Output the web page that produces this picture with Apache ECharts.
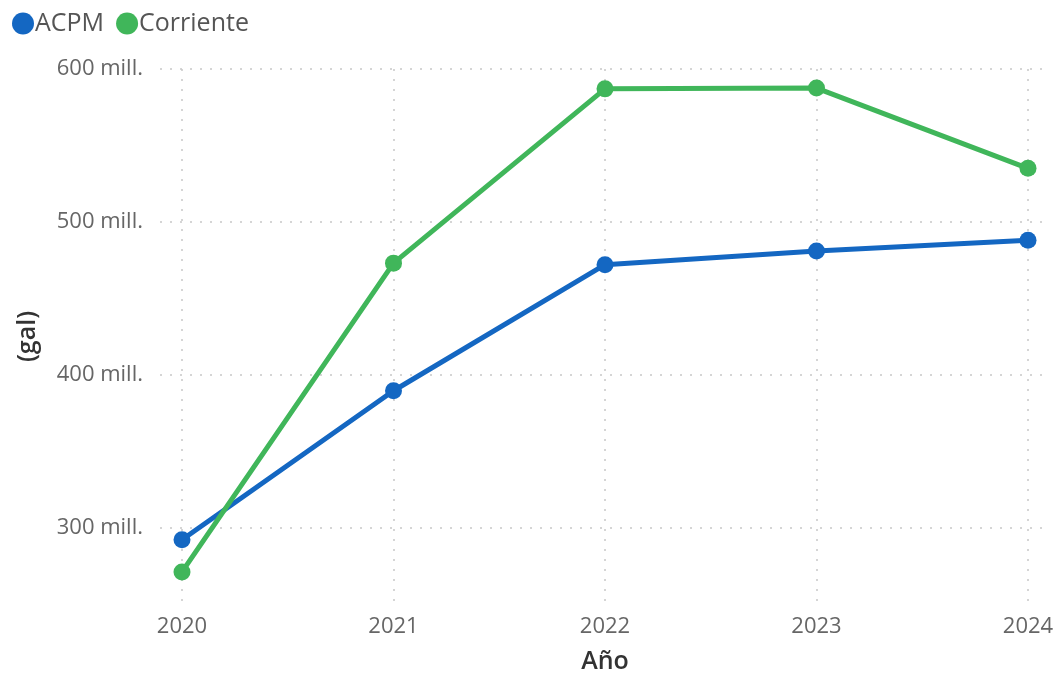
<!DOCTYPE html>
<html>
<head>
<meta charset="utf-8">
<script src="https://cdn.jsdelivr.net/npm/echarts@6/dist/echarts.min.js"></script>
<style>
  html, body { margin: 0; padding: 0; background: #fff; }
  #chart { width: 1057px; height: 674px; }
</style>
</head>
<body>
<div id="chart"></div>
<script>
    // datos (millones de galones)
    const years = ['2020', '2021', '2022', '2023', '2024']
    const acpm = [292, 389.5, 472, 481, 488]
    const corriente = [271, 473, 587, 587.5, 535]
    const yTicks = [300, 400, 500, 600]

    const chart = echarts.init(document.getElementById('chart'))
    const font = '"Open Sans", "Noto Sans", sans-serif'

    const option = {
        backgroundColor: '#fff',
        animation: false,
        textStyle: { fontFamily: font },
        legend: {
            left: 7,
            top: 6,
            icon: 'circle',
            itemWidth: 22,
            itemHeight: 22,
            itemGap: 12,
            textStyle: { fontSize: 25, color: '#555', fontFamily: font, padding: [0, 0, 0, -4] },
            data: ['ACPM', 'Corriente']
        },
        grid: [
            // grid for y labels and horizontal lines
            { left: 160, right: 14, top: 69, bottom: 70, outerBoundsMode: 'none', containLabel: false },
            // grid for the series
            { left: 182, right: 29, top: 69, bottom: 70, outerBoundsMode: 'none', containLabel: false }
        ],
        xAxis: [
            {
                gridIndex: 0, type: 'category', data: years, show: false
            },
            {
                gridIndex: 1,
                type: 'category',
                data: years,
                boundaryGap: false,
                name: 'Año',
                nameLocation: 'middle',
                nameGap: 45,
                nameTextStyle: { fontSize: 25, fontWeight: 600, color: '#333', fontFamily: font },
                axisLine: { show: false },
                axisTick: { show: false },
                axisLabel: { fontSize: 22, color: '#666', margin: 12, fontFamily: font },
                splitLine: { show: true, lineStyle: { type: [2, 8], color: '#c8c8c8', width: 1.5 } }
            }
        ],
        yAxis: [
            {
                gridIndex: 0,
                type: 'value',
                min: 250,
                max: 600,
                interval: 50,
                name: '(gal)',
                nameLocation: 'middle',
                nameGap: 120,
                nameRotate: 90,
                nameTextStyle: { fontSize: 25, fontWeight: 600, color: '#333', fontFamily: font },
                axisLine: { show: false },
                axisTick: { show: false },
                axisLabel: {
                    fontSize: 22, color: '#666', margin: 17, fontFamily: font,
                    formatter: function (v) {
                        return yTicks.indexOf(v) >= 0 ? v + ' mill.' : ''
                    }
                },
                splitLine: {
                    show: true,
                    lineStyle: { type: [2, 8], color: ['transparent', '#c8c8c8'], width: 1.5 }
                }
            },
            {
                gridIndex: 1,
                type: 'value',
                min: 250,
                max: 600,
                axisLine: { show: false },
                axisTick: { show: false },
                axisLabel: { show: false },
                splitLine: { show: false }
            }
        ],
        series: [
            {
                name: 'ACPM',
                type: 'line',
                xAxisIndex: 1,
                yAxisIndex: 1,
                data: acpm,
                color: '#1467C2',
                symbol: 'circle',
                symbolSize: 17,
                lineStyle: { width: 5 }
            },
            {
                name: 'Corriente',
                type: 'line',
                xAxisIndex: 1,
                yAxisIndex: 1,
                data: corriente,
                color: '#40B65A',
                symbol: 'circle',
                symbolSize: 17,
                lineStyle: { width: 5 }
            }
        ]
    }
    chart.setOption(option)
</script>
</body>
</html>
